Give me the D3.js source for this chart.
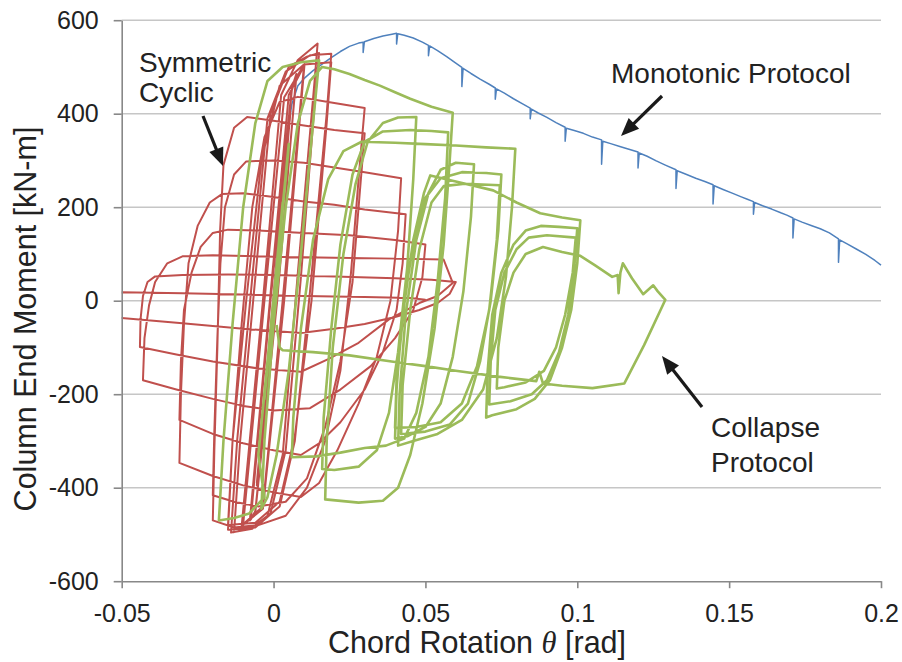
<!DOCTYPE html>
<html>
<head>
<meta charset="utf-8">
<style>
  body { margin: 0; background: #fff; }
  svg { display: block; font-family: 'Liberation Sans', Arial, sans-serif; }
  .tick text { font-size: 25px; fill: #222; }
  .ann { font-size: 28px; fill: #222; }
  .title { font-size: 30.5px; fill: #222; }
</style>
</head>
<body>
<svg width="902" height="662"></svg>
<script src="https://d3js.org/d3.v7.min.js"></script>
<script>
// axis ticks
let xTicks = [-0.05, 0, 0.05, 0.1, 0.15, 0.2]
let xTickLabels = ["-0.05", "0", "0.05", "0.1", "0.15", "0.2"]
let yTicks = [-600, -400, -200, 0, 200, 400, 600]
let yTickLabels = ["-600", "-400", "-200", "0", "200", "400", "600"]

// monotonic protocol [rotation, moment]
let monotonic = [
  [0,0],[0.002,180],[0.004,330],[0.006,420],[0.008,460],[0.01,475],[0.013,492],[0.016,506],[0.019,520],
  [0.022,533],[0.025,544],[0.028,551],[0.0295,553],[0.0295,531],[0.0299,554],[0.033,561],[0.036,566],
  [0.039,570],[0.0405,572],[0.0405,549],[0.0409,571],[0.043,568],[0.046,562],[0.049,553],[0.051,546],
  [0.051,524],[0.0514,545],[0.054,535],[0.057,522],[0.06,508],[0.062,499],[0.062,458],[0.0624,497],
  [0.065,486],[0.068,474],[0.071,463],[0.073,455],[0.073,431],[0.0734,453],[0.076,444],[0.079,432],
  [0.082,421],[0.0845,412],[0.0845,389],[0.0849,410],[0.087,402],[0.09,392],[0.093,381],[0.096,371],
  [0.096,341],[0.0964,369],[0.099,364],[0.102,358],[0.105,350],[0.108,344],[0.108,292],[0.1084,341],
  [0.111,336],[0.114,330],[0.117,324],[0.12,318],[0.12,284],[0.1204,316],[0.123,309],[0.126,299],
  [0.129,290],[0.1325,280],[0.1325,240],[0.1329,278],[0.136,270],[0.139,262],[0.142,255],[0.1447,248],
  [0.1447,207],[0.1451,246],[0.148,238],[0.151,230],[0.154,222],[0.156,217],[0.158,212],[0.158,185],
  [0.1584,210],[0.161,203],[0.164,196],[0.167,188],[0.169,183],[0.171,177],[0.171,134],[0.1714,175],
  [0.174,168],[0.177,161],[0.18,154],[0.183,145],[0.186,132],[0.186,82],[0.1864,130],[0.189,121],
  [0.192,110],[0.195,99],[0.198,86],[0.2,76]
]

// symmetric cyclic protocol
let symmetricCyclic = [
  [0,0],[0.0035,270],[-0.0035,-265],[0.0035,275],[-0.0035,-270],
  [0.0055,400],[-0.0055,-390],[0.0055,405],[-0.0055,-395],
  [0.006,450],[0.0075,480],[0.001,0],[-0.006,-450],[-0.0075,-468],[-0.001,0],
  [0.006,455],[0.0075,485],[0.0012,0],[-0.006,-452],[-0.0078,-470],[-0.0012,0],
  [0.005,440],[0.01,502],[0.003,0],[-0.0035,-440],[-0.01,-478],[-0.003,0],
  [0.0035,435],[0.0102,506],[0.0035,0],[-0.0035,-445],[-0.0105,-482],[-0.0035,0],
  [0.0025,440],[0.008,515],[0.0145,550],[0.0135,470],[0.008,60],[0.003,-330],[-0.002,-460],[-0.007,-485],[-0.013,-495],
  [-0.011,-300],[-0.006,50],[-0.001,400],[0.005,500],[0.011,522],[0.015,530],[0.0135,420],[0.009,50],[0.004,-320],[-0.001,-455],[-0.007,-488],[-0.014,-496],
  [-0.012,-300],[-0.007,50],[-0.002,390],[0.004,490],[0.012,525],[0.019,528],
  [0.0175,400],[0.012,20],[0.007,-300],[0.002,-440],[-0.006,-485],[-0.015,-490],
  [-0.0135,-300],[-0.009,0],[-0.004,300],[0.002,460],[0.01,505],[0.019,510],
  [0.0175,380],[0.0125,0],[0.007,-290],[0.002,-430],[-0.006,-475],[-0.015,-480],
  [-0.0135,-300],[-0.0105,-50],[-0.007,200],[-0.003,350],[0.002,425],[0.008,436],[0.018,425],[0.03,412],
  [0.0285,300],[0.0255,60],[0.022,-150],[0.017,-300],[0.011,-400],[0.004,-460],[-0.005,-480],[-0.013,-485],[-0.02,-470],
  [-0.0195,-320],[-0.0185,-100],[-0.0176,150],[-0.0165,290],[-0.013,370],[-0.0087,393],[0,385],[0.01,375],[0.02,365],[0.03,358],
  [0.0285,240],[0.026,40],[0.022,-130],[0.017,-270],[0.011,-380],[0.004,-430],[-0.005,-440],[-0.013,-430],[-0.02,-416],
  [-0.0195,-280],[-0.0185,-80],[-0.0175,80],[-0.016,200],[-0.013,270],[-0.009,298],[0,300],[0.01,295],[0.02,285],[0.03,275],[0.042,262],
  [0.041,150],[0.0385,0],[0.034,-120],[0.028,-220],[0.021,-320],[0.015,-390],[0.009,-420],[0,-410],[-0.01,-395],[-0.02,-375],[-0.031,-347],
  [-0.0305,-200],[-0.0295,-50],[-0.028,80],[-0.025,160],[-0.021,210],[-0.017,228],[-0.01,230],[0,222],[0.01,212],[0.02,205],[0.03,195],[0.0435,185],
  [0.0425,80],[0.0405,-20],[0.036,-110],[0.03,-190],[0.022,-260],[0.015,-305],[0.009,-330],[0,-320],[-0.01,-305],[-0.02,-285],[-0.031,-255],
  [-0.0305,-130],[-0.0295,-20],[-0.027,60],[-0.024,115],[-0.02,145],[-0.015,152],[-0.005,150],[0.01,145],[0.025,140],[0.04,130],[0.05,120],
  [0.049,50],[0.046,-20],[0.04,-80],[0.032,-140],[0.022,-190],[0.012,-230],[0,-235],[-0.01,-225],[-0.02,-210],[-0.032,-190],[-0.043,-170],
  [-0.0425,-80],[-0.041,-10],[-0.039,40],[-0.035,80],[-0.03,95],[-0.02,97],[0,94],[0.02,92],[0.04,90],[0.056,88],
  [0.059,38],[0.054,10],[0.048,-5],[0.038,-40],[0.028,-90],[0.018,-125],[0.009,-152],[-0.005,-145],[-0.02,-130],[-0.032,-115],[-0.044,-99],
  [-0.0438,-40],[-0.043,10],[-0.0415,40],[-0.039,52],[-0.03,55],[-0.015,56],[0,55],[0.02,52],[0.04,48],[0.052,45],[0.06,40],
  [0.058,15],[0.054,-5],[0.048,-20],[0.04,-35],[0.03,-50],[0.02,-60],[0.009,-69],[-0.01,-60],[-0.03,-48],[-0.05,-37],[-0.056,-34],
  [-0.054,0],[-0.05,18],[-0.03,16],[-0.01,13],[0.01,10],[0.03,8],[0.045,6],[0.05,2]
]

// collapse-consistent protocol
let collapse = [
  [0,0],[0.003,200],[-0.003,-200],[0.003,210],[-0.003,-210],
  [0.005,330],[-0.005,-330],[0.005,335],[-0.005,-330],
  [-0.003,-420],[-0.008,-455],[-0.013,-465],[-0.018,-470],
  [-0.0165,-300],[-0.0135,-50],[-0.01,200],[-0.006,380],[-0.002,470],[0.003,500],[0.009,510],[0.015,514],
  [0.013,380],[0.009,100],[0.005,-150],[0.001,-330],[-0.002,-420],[-0.004,-445],
  [-0.003,-300],[0,-50],[0.004,200],[0.008,380],[0.012,470],[0.016,500],[0.02,495],
  [0.025,485],[0.03,472],[0.035,460],[0.04,446],[0.045,432],[0.052,415],[0.059,402],
  [0.058,300],[0.056,120],[0.053,-60],[0.049,-220],[0.045,-330],[0.041,-400],[0.036,-428],[0.028,-432],[0.017,-425],
  [0.0175,-300],[0.0195,-100],[0.023,100],[0.027,250],[0.031,340],[0.036,380],[0.041,392],[0.047,393],
  [0.046,260],[0.044,70],[0.041,-110],[0.038,-240],[0.034,-320],[0.028,-355],[0.02,-362],[0.016,-360],
  [0.0165,-250],[0.019,-60],[0.022,120],[0.026,270],[0.03,340],[0.036,362],[0.045,365],[0.052,363],[0.0575,360],
  [0.0565,220],[0.054,40],[0.051,-120],[0.047,-240],[0.043,-295],[0.037,-310],[0.03,-315],[0.022,-325],[0.014,-333],[0.006,-335],
  [0.0065,-250],[0.009,-60],[0.013,130],[0.018,260],[0.023,320],[0.029,340],[0.04,338],[0.05,335],[0.06,332],[0.07,328],[0.0796,325],
  [0.0785,200],[0.0765,50],[0.0735,-80],[0.069,-190],[0.062,-255],[0.054,-285],[0.046,-300],[0.041,-310],
  [0.0415,-200],[0.0435,-30],[0.047,130],[0.051,230],[0.055,280],[0.06,295],[0.066,292],
  [0.065,180],[0.0625,20],[0.059,-120],[0.055,-220],[0.05,-270],[0.044,-290],[0.04,-295],
  [0.0405,-190],[0.0425,-20],[0.046,120],[0.05,220],[0.055,262],[0.062,275],[0.07,273],[0.075,270],
  [0.074,150],[0.0715,0],[0.068,-130],[0.064,-220],[0.058,-265],[0.05,-280],[0.042,-285],
  [0.0425,-180],[0.045,-20],[0.048,110],[0.052,210],[0.056,245],[0.063,250],[0.0745,247],
  [0.0735,130],[0.071,-20],[0.067,-140],[0.062,-220],[0.055,-260],[0.047,-270],[0.04,-272],
  [0.0405,-170],[0.043,-10],[0.046,130],[0.0495,230],[0.0516,268],[0.06,255],[0.0723,236],[0.08,210],[0.0878,187],[0.095,178],[0.101,172],
  [0.1,80],[0.098,-20],[0.095,-100],[0.091,-170],[0.086,-210],[0.08,-232],[0.072,-245],[0.07,-250],
  [0.0705,-150],[0.072,-30],[0.075,60],[0.079,120],[0.083,150],[0.088,160],[0.094,158],[0.1,155],
  [0.099,70],[0.097,-30],[0.094,-110],[0.09,-170],[0.085,-200],[0.078,-215],[0.071,-222],
  [0.0715,-130],[0.073,-20],[0.076,60],[0.08,110],[0.084,135],[0.09,140],[0.0995,135],
  [0.0985,60],[0.096,-30],[0.093,-100],[0.089,-150],[0.083,-175],[0.076,-185],[0.0735,-188],
  [0.074,-100],[0.076,0],[0.079,60],[0.083,100],[0.0887,115],
  [0.095,104],[0.101,96],[0.106,75],[0.1115,51],[0.1133,55],[0.1136,16],[0.1142,60],[0.115,80],[0.118,48],
  [0.1217,14],[0.125,33],[0.1265,20],[0.129,2],
  [0.122,-95],[0.1155,-177],[0.105,-187],[0.095,-182],[0.0887,-177],[0.0875,-152],[0.0865,-172],[0.0746,-163],
  [0.06,-150],[0.05,-140],[0.04,-131],[0.025,-117],[0.013,-110],[0.003,-106],[0.002,-100],[0.001,-52]
]

let svg = d3.select("svg")
let x = d3.scaleLinear().domain([-0.05, 0.2]).range([121.7, 881])
let y = d3.scaleLinear().domain([-600, 600]).range([581.2, 20.2])

// horizontal gridlines
svg.append("g")
  .selectAll("line")
  .data(yTicks.filter(d => d > -600))
  .join("line")
  .attr("x1", x(-0.05)).attr("x2", x(0.2))
  .attr("y1", d => y(d)).attr("y2", d => y(d))
  .attr("stroke", "#c6c6c6")
  .attr("stroke-width", 1.5)

svg.append("clipPath").attr("id", "plot")
  .append("rect")
  .attr("x", x(-0.05)).attr("y", y(600) - 5)
  .attr("width", x(0.2) - x(-0.05) + 2).attr("height", y(-600) - y(600) + 5)

let line = d3.line().x(d => x(d[0])).y(d => y(d[1]))

let series = [
  { data: monotonic, color: "#4f81bd", width: 1.5 },
  { data: symmetricCyclic, color: "#c0504d", width: 2 },
  { data: collapse, color: "#9bbb59", width: 2.6 }
]

svg.append("g")
  .attr("clip-path", "url(#plot)")
  .selectAll("path")
  .data(series)
  .join("path")
  .attr("d", d => line(d.data))
  .attr("fill", "none")
  .attr("stroke", d => d.color)
  .attr("stroke-width", d => d.width)
  .attr("stroke-linejoin", "round")

// axes
svg.append("g")
  .attr("transform", `translate(0,${y(-600)})`)
  .call(d3.axisBottom(x).tickValues(xTicks).tickFormat((d, i) => xTickLabels[i])
    .tickSize(7).tickSizeOuter(0).tickPadding(16))

svg.append("g")
  .attr("transform", `translate(${x(-0.05)},0)`)
  .call(d3.axisLeft(y).tickValues(yTicks).tickFormat((d, i) => yTickLabels[i])
    .tickSize(8).tickSizeOuter(0).tickPadding(15))

svg.selectAll(".domain, .tick line")
  .attr("stroke", "#888")
  .attr("stroke-width", 1.6)
svg.selectAll(".tick text").attr("font-family", null).attr("font-size", null)

// axis titles
svg.append("text")
  .attr("class", "title")
  .attr("x", 477).attr("y", 653)
  .attr("text-anchor", "middle")
  .html('Chord Rotation <tspan font-family="Liberation Serif, serif" font-style="italic">θ</tspan> [rad]')

svg.append("text")
  .attr("class", "title")
  .attr("transform", "translate(36,319) rotate(-90)")
  .attr("text-anchor", "middle")
  .text("Column End Moment [kN-m]")

// annotations
let notes = [
  { lines: ["Symmetric", "Cyclic"], x: 139, y: 72, gap: 30 },
  { lines: ["Monotonic Protocol"], x: 611, y: 83, gap: 0 },
  { lines: ["Collapse", "Protocol"], x: 711, y: 437, gap: 35 }
]
notes.forEach(n => {
  let t = svg.append("text").attr("class", "ann")
  n.lines.forEach((s, i) => {
    t.append("tspan").attr("x", n.x).attr("y", n.y + i * n.gap).text(s)
  })
})

let arrows = [
  [[203, 116], [223, 166]],
  [[662, 96], [621, 136]],
  [[702, 407], [662, 356]]
]
arrows.forEach(([a, b]) => {
  let dx = b[0] - a[0], dy = b[1] - a[1]
  let len = Math.hypot(dx, dy)
  let ux = dx / len, uy = dy / len
  let hl = 18, hw = 7.5
  let bx = b[0] - ux * hl, by = b[1] - uy * hl
  svg.append("line")
    .attr("x1", a[0]).attr("y1", a[1]).attr("x2", bx + ux * 2).attr("y2", by + uy * 2)
    .attr("stroke", "#1a1a1a").attr("stroke-width", 3.2)
  svg.append("polygon")
    .attr("points", [
      [b[0], b[1]],
      [bx - uy * hw, by + ux * hw],
      [bx + uy * hw, by - ux * hw]
    ].map(p => p.join(",")).join(" "))
    .attr("fill", "#1a1a1a")
})
</script>
</body>
</html>
